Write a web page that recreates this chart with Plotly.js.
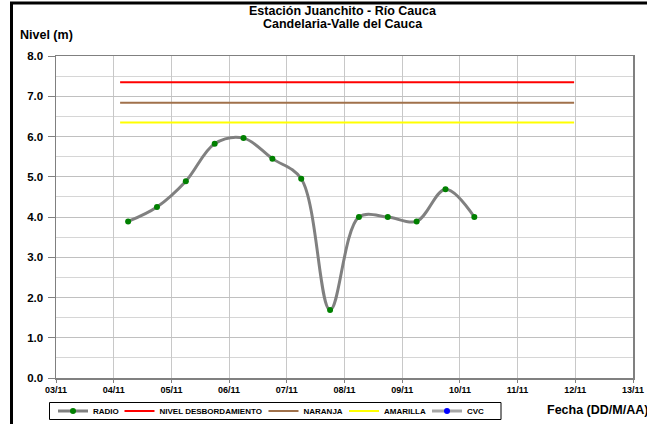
<!DOCTYPE html>
<html>
<head>
<meta charset="utf-8">
<script src="https://cdn.plot.ly/plotly-3.0.1.min.js"></script>
<style>html,body{margin:0;padding:0;background:#fff;}#chart{width:647px;height:424px;}</style>
</head>
<body>
<div id="chart"></div>
<script>
// ---- data ----
var radioDates = ['2011-11-04 06:00','2011-11-04 18:00','2011-11-05 06:00','2011-11-05 18:00',
  '2011-11-06 06:00','2011-11-06 18:00','2011-11-07 06:00','2011-11-07 18:00',
  '2011-11-08 06:00','2011-11-08 18:00','2011-11-09 06:00','2011-11-09 18:00','2011-11-10 06:00'];
var radioLevels = [3.89, 4.25, 4.89, 5.82, 5.96, 5.45, 4.95, 1.69, 4.00, 4.00, 3.89, 4.69, 4.00];

var thresholdDates = ['2011-11-04 02:40', '2011-11-11 23:30'];
var desbordamiento = [7.35, 7.35];
var naranja = [6.84, 6.84];
var amarilla = [6.35, 6.35];

// CVC series has no readings in the picture (legend entry only)
var cvcDates = [null];
var cvcLevels = [null];

var seriesNames = ['RADIO', 'NIVEL DESBORDAMIENTO', 'NARANJA', 'AMARILLA', 'CVC'];
var titleLines = ['Estación Juanchito - Río Cauca', 'Candelaria-Valle del Cauca'];
var xTickRange = ['2011-11-03', '2011-11-13'];

var FONT = 'Liberation Sans, Arial, sans-serif';

var traces = [
  {x: radioDates, y: radioLevels, name: seriesNames[0], type: 'scatter', mode: 'lines+markers',
   line: {color: '#808080', width: 3, shape: 'spline', smoothing: 1},
   marker: {color: '#008000', size: 6}, legend: 'legend'},
  {x: thresholdDates, y: desbordamiento, name: seriesNames[1], type: 'scatter', mode: 'lines',
   line: {color: '#FF0000', width: 2}, legend: 'legend2'},
  {x: thresholdDates, y: naranja, name: seriesNames[2], type: 'scatter', mode: 'lines',
   line: {color: '#A0714B', width: 2}, legend: 'legend3'},
  {x: thresholdDates, y: amarilla, name: seriesNames[3], type: 'scatter', mode: 'lines',
   line: {color: '#FFFF00', width: 2}, legend: 'legend4'},
  {x: cvcDates, y: cvcLevels, name: seriesNames[4], type: 'scatter', mode: 'lines+markers',
   line: {color: '#A6A6A6', width: 3},
   marker: {color: '#0000FF', size: 6}, legend: 'legend5'}
];

var L = 56, T = 56, PW = 577, PH = 322;
function px(x) { return (x - L) / PW; }
function py(y) { return (T + PH - y) / PH; }
var boldFont = {family: FONT, size: 12.5, weight: 'bold', color: '#000'};

function legendAt(xPix) {
  return {orientation: 'h', x: px(xPix), y: py(411), xanchor: 'left', yanchor: 'middle',
    borderwidth: 0, bgcolor: 'rgba(0,0,0,0)', itemwidth: 30,
    font: {family: FONT, size: 8, weight: 'bold', color: '#000'}};
}

var layout = {
  width: 647, height: 424,
  margin: {l: 56, r: 14, t: 56, b: 46, pad: 0, autoexpand: false},
  paper_bgcolor: '#ffffff', plot_bgcolor: '#ffffff',
  font: {family: FONT, color: '#000'},
  xaxis: {type: 'date', range: xTickRange, dtick: 86400000, tick0: '2011-11-03',
    tickformat: '%d/%m', showgrid: true, gridcolor: '#C8C8C8', gridwidth: 1,
    showline: true, linecolor: '#808080', linewidth: 1.5, mirror: true,
    ticks: 'outside', ticklen: 3, tickcolor: '#808080',
    tickfont: {family: FONT, size: 9, weight: 'bold', color: '#000'},
    zeroline: false, fixedrange: true, automargin: false},
  yaxis: {range: [0, 8], dtick: 1, tick0: 0, tickformat: '.1f',
    showgrid: true, gridcolor: '#C0C0C0', gridwidth: 1,
    minor: {dtick: 0.5, showgrid: true, gridcolor: '#D6D6D6', gridwidth: 1},
    showline: true, linecolor: '#808080', linewidth: 1.5, mirror: true,
    ticks: 'outside', ticklen: 7, tickcolor: '#808080', ticklabelstandoff: 2,
    tickfont: {family: FONT, size: 11.5, weight: 'bold', color: '#000'},
    zeroline: false, fixedrange: true, automargin: false},
  legend: legendAt(53),
  legend2: legendAt(119.5),
  legend3: legendAt(263.5),
  legend4: legendAt(344),
  legend5: legendAt(427),
  annotations: [
    {text: titleLines[0], xref: 'paper', yref: 'paper', x: px(343), y: py(11),
     xanchor: 'center', yanchor: 'middle', showarrow: false, font: boldFont},
    {text: titleLines[1], xref: 'paper', yref: 'paper', x: px(343), y: py(24),
     xanchor: 'center', yanchor: 'middle', showarrow: false, font: boldFont},
    {text: 'Nivel (m)', xref: 'paper', yref: 'paper', x: px(18), y: py(35),
     xanchor: 'left', yanchor: 'middle', showarrow: false, font: boldFont},
    {text: 'Fecha (DD/M/AA)', xref: 'paper', yref: 'paper', x: px(545), y: py(410),
     xanchor: 'left', yanchor: 'middle', showarrow: false, font: boldFont}
  ],
  shapes: [
    {type: 'rect', xref: 'paper', yref: 'paper', x0: px(11.5), x1: 1.2, y0: -0.3, y1: py(3),
     line: {color: '#000', width: 3}, fillcolor: 'rgba(0,0,0,0)', layer: 'above'},
    {type: 'rect', xref: 'paper', yref: 'paper', x0: px(49.5), x1: px(501), y0: py(419.5), y1: py(402.5),
     line: {color: '#000', width: 1}, fillcolor: 'rgba(0,0,0,0)', layer: 'above'}
  ],
  showlegend: true
};

Plotly.newPlot('chart', traces, layout, {displayModeBar: false, staticPlot: true});
</script>
</body>
</html>
